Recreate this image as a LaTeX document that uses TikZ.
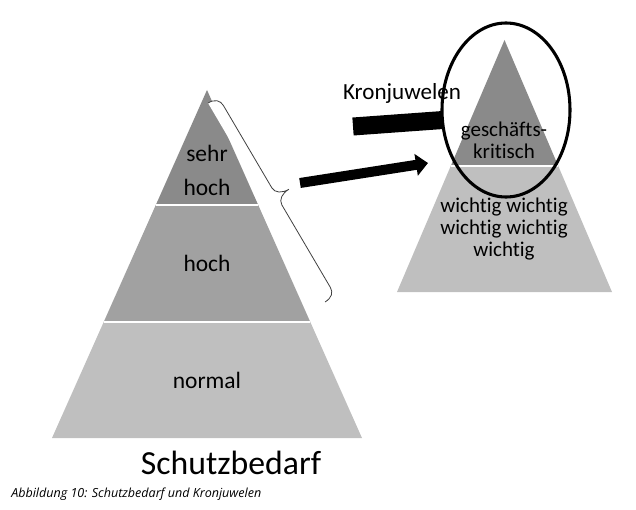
\documentclass[tikz,border=0pt]{standalone}
\usepackage{fontspec}
\setmainfont{Carlito}[Ligatures=NoCommon]
\newfontfamily\capfont{Open Sans}
\usetikzlibrary{arrows.meta}
\definecolor{pdark}{RGB}{138,138,138}
\definecolor{pmid}{RGB}{161,161,161}
\definecolor{plight}{RGB}{191,191,191}
\begin{document}
\begin{tikzpicture}[x=0.75pt,y=-0.75pt,
  sep/.style={draw=white,line width=1.1pt},
  lbl/.style={inner sep=0pt,font=\fontsize{17.6pt}{21pt}\selectfont},
  rlbl/.style={inner sep=0pt,align=center,font=\fontsize{15.75pt}{16.4pt}\selectfont},
  bracestyle/.style={draw=black!75,line width=0.6pt,fill=white}]
\useasboundingbox (0,0) rectangle (636,510);
% left pyramid
\fill[pdark] (207,90) -- (258.2,205) -- (155.8,205) -- cycle;
\fill[pmid] (155.8,205) -- (258.2,205) -- (310.3,322) -- (103.7,322) -- cycle;
\fill[plight] (103.7,322) -- (310.3,322) -- (362,438) -- (52,438) -- cycle;
\draw[sep] (155.8,205) -- (258.2,205);
\draw[sep] (103.7,322) -- (310.3,322);
% right pyramid
\fill[pdark] (504.5,40) -- (558.25,166) -- (450.75,166) -- cycle;
\fill[plight] (450.75,166) -- (558.25,166) -- (612,292) -- (397,292) -- cycle;
\draw[sep] (450.75,166) -- (558.25,166);
% brace
\coordinate (bA) at (208,103);
\coordinate (bB) at (325,302);
\coordinate (bTip) at (288.9,189.3);
\fill[white] (bA) .. controls (214.9,98.9) and (220.4,100.4) .. (223.4,105.5)
  -- (271.8,187.8) .. controls (274.8,193.0) and (282.0,193.3) .. (bTip)
  .. controls (282.0,193.3) and (278.9,199.8) .. (281.9,205.0)
  -- (330.3,287.3) .. controls (333.3,292.4) and (331.9,297.9) .. (bB) -- cycle;
\draw[bracestyle,fill=none] (bA) .. controls (214.9,98.9) and (220.4,100.4) .. (223.4,105.5)
  -- (271.8,187.8) .. controls (274.8,193.0) and (282.0,193.3) .. (bTip)
  .. controls (282.0,193.3) and (278.9,199.8) .. (281.9,205.0)
  -- (330.3,287.3) .. controls (333.3,292.4) and (331.9,297.9) .. (bB);
% labels left
\node[lbl] (sehr) at (207,153) {sehr};
\node[lbl] (hoch1) at (207,187) {hoch};
\node[lbl] (hoch2) at (207,263) {hoch};
\node[lbl] (normal) at (207,380) {normal};
\node[inner sep=0pt,font=\fontsize{25.3pt}{30pt}\selectfont] (title) at (231,463) {Schutzbedarf};
\node[inner sep=0pt,anchor=west,font=\capfont\itshape\fontsize{9.4pt}{11pt}\selectfont] (cap) at (11,494) {Abbildung 10: Schutzbedarf und Kronjuwelen};
% labels right
\node[rlbl] (gk) at (504,140) {geschäfts-\\kritisch};
\node[rlbl] (wi) at (504,229) {wichtig wichtig\\wichtig wichtig\\wichtig};
% arrow
\coordinate (arrS) at (300,183);
\coordinate (arrE) at (428,163);
\draw[line width=7.5pt,-{Triangle[width=16pt,length=9pt]}] (arrS) -- (arrE);
% bar
\coordinate (barS) at (353,126.5);
\coordinate (barE) at (443,120);
\draw[line width=13.5pt] (barS) -- (barE);
% Kronjuwelen
\node[inner sep=0pt,font=\fontsize{17.3pt}{20pt}\selectfont] (kron) at (402,93) {Kronjuwelen};
% ellipse
\draw[line width=2.3pt] (506,110) ellipse [x radius=64, y radius=87];
\end{tikzpicture}
\end{document}
